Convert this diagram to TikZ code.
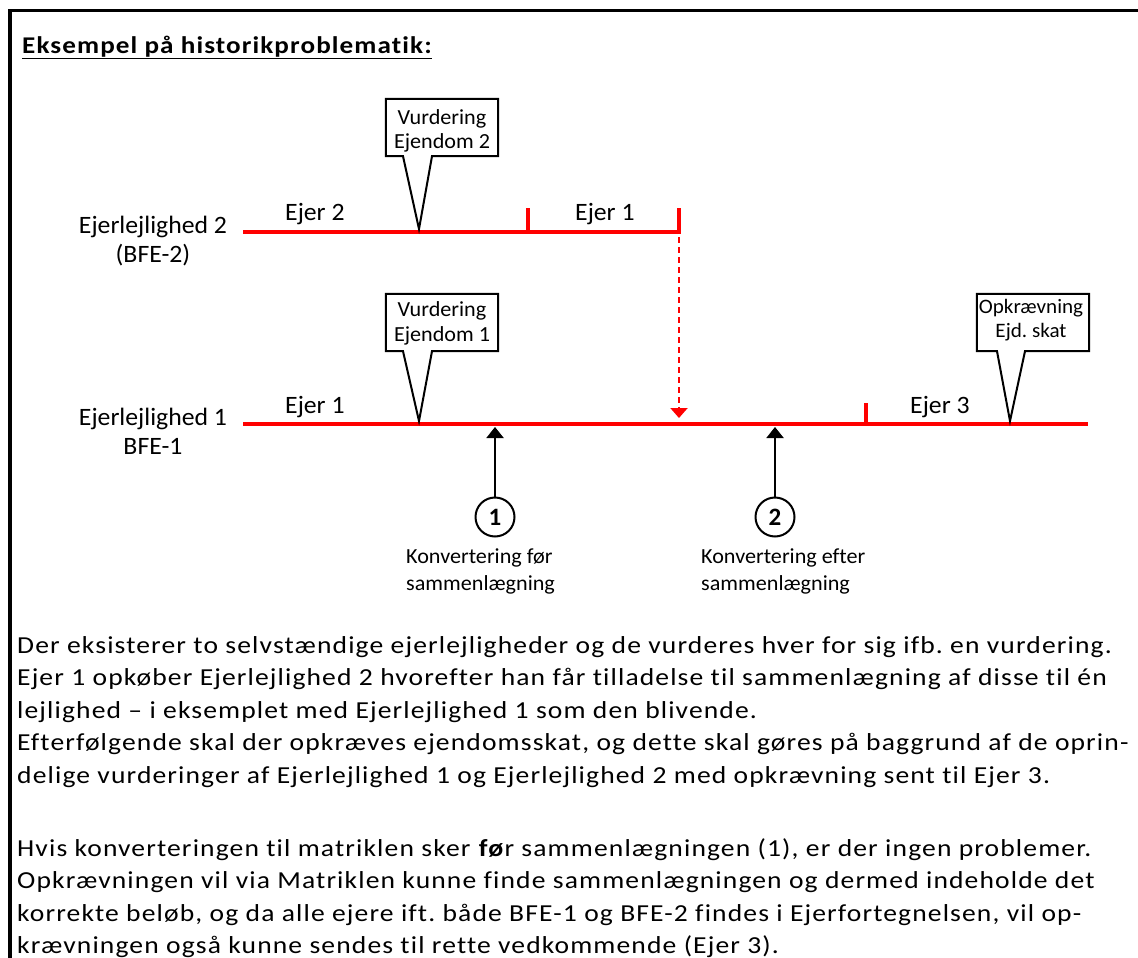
\documentclass[tikz,border=0pt]{standalone}
\usepackage{fontspec}
\setmainfont[Ligatures=NoCommon]{Carlito}
\newfontfamily\bodyfont[FakeStretch=1.13, LetterSpace=4.6, Ligatures=NoCommon]{Carlito}
\newfontfamily\diafont[FakeStretch=1.03, Ligatures=NoCommon]{Carlito}
\usetikzlibrary{arrows.meta}
\definecolor{tlred}{RGB}{255,0,0}
\frenchspacing
\begin{document}
\begin{tikzpicture}[x=1pt,y=-1pt,
  txt/.style={inner sep=0pt, anchor=base west, font=\bodyfont\frenchspacing\fontsize{24.4}{28}\selectfont},
  lbl/.style={inner sep=0pt, anchor=base, font=\diafont\fontsize{25}{28}\selectfont},
  small/.style={inner sep=0pt, anchor=base west, font=\diafont\fontsize{21.5}{25}\selectfont},
  ctext/.style={inner sep=0pt, anchor=base, font=\diafont\frenchspacing\fontsize{21.5}{24}\selectfont},
  cbox/.style={draw=none, inner sep=0pt, minimum width=112pt, minimum height=57pt},
  callout/.style={draw=black, line width=2pt, line join=miter},
  tl/.style={draw=tlred, line width=4.5pt},
  tick/.style={draw=tlred, line width=4.5pt},
  redarrow/.style={draw=tlred, line width=2pt, dash pattern=on 6pt off 4pt, -{Triangle[width=17pt,length=10pt]}},
  blackarrow/.style={draw=black, line width=2pt, -{Triangle[width=17pt,length=11pt]}},
  circ/.style={circle, draw=black, line width=2pt, minimum size=39pt, inner sep=0pt, font=\bfseries\fontsize{25}{26}\selectfont},
]
\useasboundingbox (0,0) rectangle (1138,958);
\clip (0,0) rectangle (1138,958);

% frame
\coordinate (fb) at (9.8,962);
\coordinate (fc) at (9.8,10.5);
\coordinate (fr) at (1142,10.5);
\draw[line width=3.4pt] (fb) -- (fc) -- (fr);

% title
\node[inner sep=0pt, anchor=base west, font=\bodyfont\bfseries\fontsize{24}{28}\selectfont] (title) at (22,54) {Eksempel på historikproblematik:};
\draw[line width=1.6pt] ([yshift=-4.5pt]title.base west) -- ([yshift=-4.5pt]title.base east);

% left labels
\node[lbl] (e2a) at (153,233) {Ejerlejlighed 2};
\node[lbl] (e2b) at (153,262) {(BFE-2)};
\node[lbl] (e1a) at (153,425) {Ejerlejlighed 1};
\node[lbl] (e1b) at (153,454) {BFE-1};

% timeline 2
\coordinate (l2s) at (243,232);
\coordinate (l2e) at (681,232);
\coordinate (t2ab) at (528,232);
\coordinate (t2at) at (528,208);
\coordinate (t2bb) at (679,234);
\coordinate (t2bt) at (679,208);
\draw[tl] (l2s) -- (l2e);
\draw[tick] (t2ab) -- (t2at);
\draw[tick] (t2bb) -- (t2bt);
\node[lbl, anchor=base west] (o2) at (285,220) {Ejer 2};
\node[lbl, anchor=base west] (o1t) at (575,220) {Ejer 1};

% timeline 1
\coordinate (l1s) at (243,424);
\coordinate (l1e) at (1088,424);
\coordinate (t1b) at (866,424);
\coordinate (t1t) at (866,403);
\draw[tl] (l1s) -- (l1e);
\draw[tick] (t1b) -- (t1t);
\node[lbl, anchor=base west] (o1b) at (285,413) {Ejer 1};
\node[lbl, anchor=base west] (o3) at (910,413) {Ejer 3};

% dashed merge arrow
\coordinate (ds) at (679,237);
\coordinate (de) at (679,418);
\draw[redarrow] (ds) -- (de);

% callout Vurdering Ejendom 2
\node[cbox] (v2) at (442,127.5) {};
\coordinate (v2tip) at (419,229);
\draw[callout] (v2.north west) -- (v2.north east) -- (v2.south east) -- ([xshift=-10pt]v2.south) -- (v2tip) -- ([xshift=-39pt]v2.south) -- (v2.south west) -- cycle;
\node[ctext] (v2l1) at (442,124) {Vurdering};
\node[ctext] (v2l2) at (442,148) {Ejendom 2};

% callout Vurdering Ejendom 1
\node[cbox] (v1) at (442,322.5) {};
\coordinate (v1tip) at (419,421);
\draw[callout] (v1.north west) -- (v1.north east) -- (v1.south east) -- ([xshift=-10pt]v1.south) -- (v1tip) -- ([xshift=-39pt]v1.south) -- (v1.south west) -- cycle;
\node[ctext] (v1l1) at (442,316) {Vurdering};
\node[ctext] (v1l2) at (442,341) {Ejendom 1};

% callout Opkraevning
\node[cbox] (ok) at (1033,322.5) {};
\coordinate (oktip) at (1010,421);
\draw[callout] (ok.north west) -- (ok.north east) -- (ok.south east) -- ([xshift=-8pt]ok.south) -- (oktip) -- ([xshift=-36pt]ok.south) -- (ok.south west) -- cycle;
\node[ctext, font=\diafont\frenchspacing\fontsize{20.5}{24}\selectfont] (okl1) at (1031,313) {Opkrævning};
\node[ctext, font=\diafont\frenchspacing\fontsize{20.5}{24}\selectfont] (okl2) at (1031,337) {Ejd. skat};

% conversion points
\node[circ] (n1) at (495,517) {1};
\coordinate (a1) at (495,427);
\draw[blackarrow] (n1) -- (a1);
\node[circ] (n2) at (775,517) {2};
\coordinate (a2) at (775,427);
\draw[blackarrow] (n2) -- (a2);
\node[small] (k1a) at (406,563) {Konvertering før};
\node[small] (k1b) at (406,590) {sammenlægning};
\node[small] (k2a) at (701,563) {Konvertering efter};
\node[small] (k2b) at (701,590) {sammenlægning};

% body text
\node[txt] (p1) at (17,653) {Der eksisterer to selvstændige ejerlejligheder og de vurderes hver for sig ifb. en vurdering.};
\node[txt] (p2) at (17,685.5) {Ejer 1 opkøber Ejerlejlighed 2 hvorefter han får tilladelse til sammenlægning af disse til én};
\node[txt] (p3) at (17,718) {lejlighed – i eksemplet med Ejerlejlighed 1 som den blivende.};
\node[txt] (p4) at (17,750.5) {Efterfølgende skal der opkræves ejendomsskat, og dette skal gøres på baggrund af de oprin-};
\node[txt] (p5) at (17,783) {delige vurderinger af Ejerlejlighed 1 og Ejerlejlighed 2 med opkrævning sent til Ejer 3.};
\node[txt] (q1) at (17,856) {Hvis konverteringen til matriklen sker \textbf{fø}r sammenlægningen (1), er der ingen problemer.};
\node[txt] (q2) at (17,888.5) {Opkrævningen vil via Matriklen kunne finde sammenlægningen og dermed indeholde det};
\node[txt] (q3) at (17,921) {korrekte beløb, og da alle ejere ift. både BFE-1 og BFE-2 findes i Ejerfortegnelsen, vil op-};
\node[txt] (q4) at (17,953.5) {krævningen også kunne sendes til rette vedkommende (Ejer 3).};
\end{tikzpicture}
\end{document}
